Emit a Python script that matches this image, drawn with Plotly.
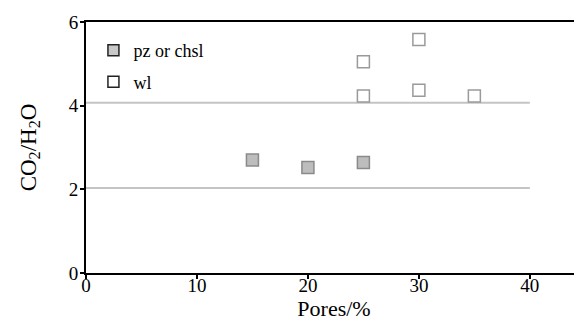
import plotly.graph_objects as go

# Data
pz_pores = [15, 20, 25]
pz_ratio = [2.70, 2.52, 2.64]
wl_pores = [25, 25, 30, 30, 35]
wl_ratio = [5.05, 4.23, 5.58, 4.37, 4.23]
ref_levels = [4.07, 2.03]
ref_x = [0, 40]
x_ticks = [0, 10, 20, 30, 40]
y_ticks = [0, 2, 4, 6]

FONT = '"Liberation Serif", "Times New Roman", Times, serif'

fig = go.Figure()

for lvl in ref_levels:
    fig.add_trace(go.Scatter(x=ref_x, y=[lvl, lvl], mode="lines",
                             line=dict(color="#c4c4c4", width=2),
                             showlegend=False, hoverinfo="skip"))

fig.add_trace(go.Scatter(x=pz_pores, y=pz_ratio, mode="markers", showlegend=False,
                         marker=dict(symbol="square", size=12, color="#bdbdbd",
                                     line=dict(color="#8a8a8a", width=1.5))))
fig.add_trace(go.Scatter(x=wl_pores, y=wl_ratio, mode="markers", showlegend=False,
                         marker=dict(symbol="square", size=12, color="white",
                                     line=dict(color="#9a9a9a", width=1.5))))

# legend entries
fig.add_trace(go.Scatter(x=[None], y=[None], mode="markers", name="pz or chsl",
                         legendgroup="a",
                         marker=dict(symbol="square", size=11, color="#c8c8c8",
                                     line=dict(color="#222", width=1.5))))
fig.add_trace(go.Scatter(x=[None], y=[None], mode="markers", name="wl",
                         legendgroup="b",
                         marker=dict(symbol="square", size=11, color="white",
                                     line=dict(color="#222", width=1.5))))

# page body has an 8px margin; size the figure to fill the 582x325 window
fig.update_layout(
    width=574, height=317,
    margin=dict(l=78, r=0, t=14, b=52),
    paper_bgcolor="white", plot_bgcolor="white",
    font=dict(family=FONT, size=19, color="black"),
    showlegend=True,
    legend=dict(x=0.015, y=0.96, xanchor="left", yanchor="top",
                bgcolor="rgba(0,0,0,0)", font=dict(family=FONT, size=18),
                traceorder="grouped", tracegroupgap=5, itemwidth=30),
)
fig.update_xaxes(range=[0, 44.7], tickvals=x_ticks, showgrid=False, zeroline=False,
                 showline=True, linecolor="black", linewidth=2, mirror=True,
                 ticks="outside", ticklen=4, tickwidth=2, tickcolor="black",
                 ticklabelstandoff=-10,
                 tickfont=dict(family=FONT, size=19),
                 title=dict(text="Pores/%", font=dict(family=FONT, size=22), standoff=2))
fig.update_yaxes(range=[0, 6], tickvals=y_ticks, showgrid=False, zeroline=False,
                 showline=True, linecolor="black", linewidth=2,
                 ticks="outside", ticklen=4, tickwidth=2, tickcolor="black",
                 ticklabelstandoff=-2,
                 tickfont=dict(family=FONT, size=19),
                 title=dict(text="CO<sub>2</sub>/H<sub>2</sub>O", font=dict(family=FONT, size=23), standoff=26))

fig.write_html("out.html")
